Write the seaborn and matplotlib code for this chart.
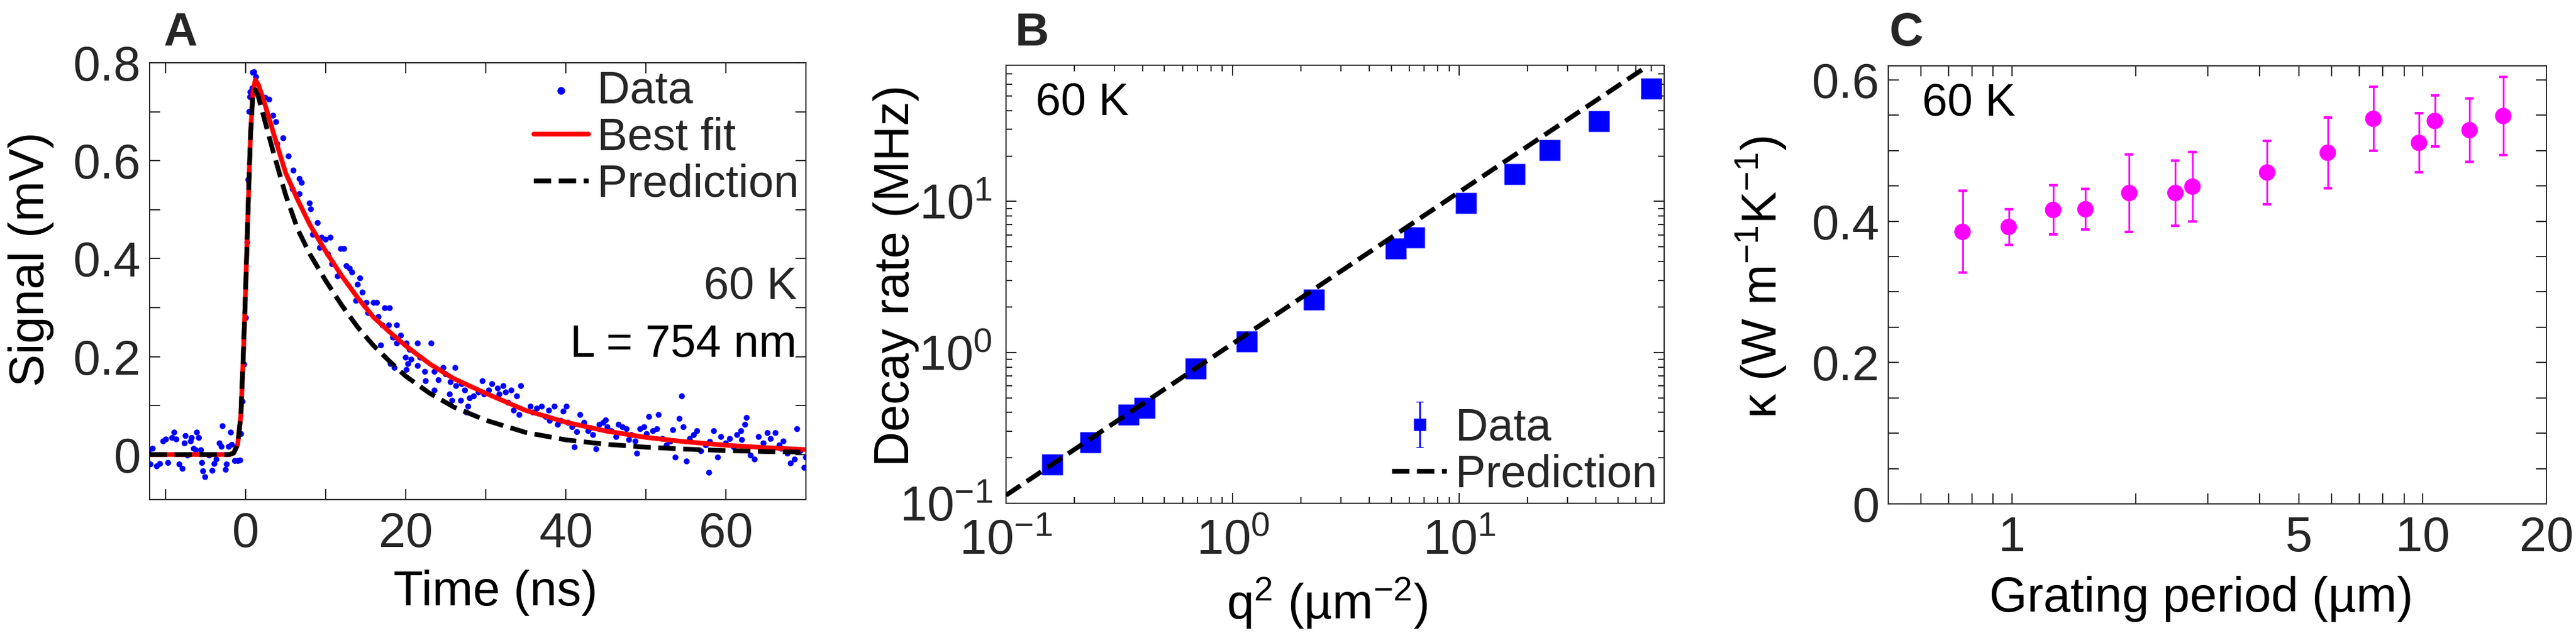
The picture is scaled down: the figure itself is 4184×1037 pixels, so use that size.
import matplotlib
matplotlib.use("Agg")
import matplotlib.pyplot as plt
from matplotlib.ticker import FixedLocator, MultipleLocator, NullFormatter, LogLocator
import seaborn as sns

# ---------------- data ----------------
# panel A: transient grating signal at 60 K, L = 754 nm
time_ns = [
    -12.06, -11.9, -11.62, -11.1, -10.7, -10.3, -9.95, -9.69, -9.18, -8.92, -8.66, -8.28,
    -7.89, -7.63, -7.51, -7.25, -6.86, -6.74, -6.48, -6.22, -6.09, -5.84, -5.58, -5.45,
    -5.32, -5.06, -4.55, -4.16, -3.91, -3.65, -3.26, -3.01, -2.88, -2.49, -2.37, -2.11,
    -1.85, -1.72, -1.34, -0.95, -0.69, -0.57,
    -0.39, -0.18, 0.03, 0.21, 0.33, 0.46, 0.55, 0.59, 0.85, 0.9, 1.06, 1.1, 1.3,
    2.43, 2.94, 3.44, 3.8, 4.7, 3.95, 5.37, 5.97, 6.73, 7.0, 5.87, 6.73, 8.0, 8.15,
    9.0, 8.4, 9.5, 10.0, 10.6, 9.27, 10.3, 11.9, 12.3, 10.8, 11.5, 12.6, 13.0, 13.3,
    14.3, 14.0, 13.8, 14.6, 15.1, 15.3, 16.0, 16.4, 17.4, 18.0, 16.6, 17.1, 17.9,
    18.9, 18.4, 16.9, 18.1, 18.6,
    18.5, 19.4, 18.9, 20.1, 21.5, 20.5, 23.2, 20.0, 20.7, 21.8, 21.5, 20.1, 22.4,
    20.3, 22.5, 23.6, 24.1, 24.7, 25.0, 26.2, 23.6, 25.6, 26.3, 27.0, 27.4, 25.5,
    25.8, 26.9, 28.0, 27.8, 27.6, 28.5, 29.1, 29.6, 29.8, 30.4, 30.8, 31.5, 32.2,
    31.7, 32.5, 33.2, 34.4, 33.9, 32.8, 33.5, 34.2, 35.6, 35.9, 37.0, 37.9, 38.6,
    38.0, 39.0, 39.4, 40.1, 40.3, 40.8, 41.1, 41.8, 42.3, 42.8, 43.4, 43.8, 44.2,
    44.7, 45.2, 45.7, 46.3, 46.6, 47.1, 47.6, 48.2, 48.7, 48.9, 49.3, 49.8, 50.4,
    50.9, 51.4, 51.6, 52.1, 52.6, 53.1, 53.7, 54.2, 54.5, 54.7, 55.1, 55.5, 56.0,
    56.4, 56.9, 57.5, 57.9, 58.5, 59.0, 59.4, 60.0, 60.5, 61.0, 61.4, 61.9, 62.4,
    62.6, 63.1, 63.6, 64.1, 64.7, 65.2, 65.6, 66.2, 66.7, 67.2, 67.7, 68.1, 68.6,
    68.9, 69.3, 69.8, 70.0,
    36.4, 37.5, 39.7, 41.4, 43.1, 45.0, 47.9, 50.1, 53.4, 58.0, 62.0, 66.9,
]
signal_mv = [
    0.009, -0.02, 0.012, -0.024, -0.019, 0.027, 0.031, -0.017, 0.034, 0.045, 0.031, -0.020,
    -0.029, 0.023, 0.038, -0.002, 0.027, 0.034, 0.012, 0.009, 0.045, 0.034, 0.009, -0.017,
    -0.034, -0.046, -0.002, -0.033, -0.019, -0.010, 0.023, 0.016, 0.058, -0.031, -0.020, 0.016,
    0.045, 0.020, -0.013, -0.013, -0.012, 0.042,
    0.108, 0.184, 0.279, 0.433, 0.561, 0.70, 0.73, 0.74, 0.748, 0.78, 0.781, 0.74, 0.771,
    0.729, 0.725, 0.692, 0.679, 0.646, 0.634, 0.609, 0.58, 0.563, 0.555, 0.542, 0.532, 0.513, 0.501,
    0.473, 0.449, 0.443, 0.439, 0.443, 0.422, 0.409, 0.42, 0.42, 0.389, 0.364, 0.385, 0.38, 0.372,
    0.36, 0.347, 0.314, 0.331, 0.31, 0.289, 0.31, 0.31, 0.299, 0.299, 0.281, 0.264, 0.264,
    0.264, 0.239, 0.223, 0.185, 0.177,
    0.239, 0.243, 0.227, 0.227, 0.227, 0.214, 0.227, 0.198, 0.194, 0.198, 0.181, 0.173, 0.169,
    0.185, 0.15, 0.169, 0.152, 0.177, 0.164, 0.177, 0.131, 0.148, 0.14, 0.144, 0.131, 0.123,
    0.11, 0.11, 0.115, 0.098, 0.086, 0.119, 0.127, 0.15, 0.123, 0.131, 0.144, 0.135, 0.14,
    0.123, 0.127, 0.131, 0.14, 0.119, 0.106, 0.09, 0.081, 0.098, 0.086, 0.098, 0.09, 0.098,
    0.069, 0.061, 0.069, 0.098, 0.065, 0.056, 0.015, 0.081, 0.065, 0.048, 0.04, 0.011, 0.061,
    0.065, 0.056, 0.048, 0.036, 0.061, 0.056, 0.052, 0.04, 0.027, 0.002, 0.052, 0.056, 0.077,
    0.048, 0.052, 0.081, 0.032, 0.019, 0.027, -0.006, 0.073, 0.119, 0.056, -0.014, 0.032, 0.04,
    0.048, 0.007, 0.019, -0.037, 0.048, -0.006, 0.036, 0.023, 0.032, 0.015, 0.04, 0.048, 0.061,
    0.075, -0.002, -0.01, 0.036, 0.023, 0.044, 0.032, 0.044, 0.019, 0.027, 0.002, -0.018, -0.01,
    0.052, 0.007, -0.027, -0.006,
    0.094, 0.077, 0.088, 0.046, 0.054, 0.07, 0.03, 0.042, 0.05, 0.026, 0.03, 0.012,
]

curve_t = [-12, -2, -1.5, -1, -0.6, -0.3, 0, 0.3, 0.6, 0.9, 1.2, 1.6, 2.5, 3.5, 5, 6.5, 8,
           10, 12, 14, 16, 18, 20, 23, 26, 30, 35, 40, 45, 50, 55, 60, 65, 70]
best_fit = [0, 0, 0.003, 0.02, 0.08, 0.2, 0.34, 0.5, 0.65, 0.74, 0.765, 0.755, 0.71, 0.655,
            0.575, 0.52, 0.47, 0.415, 0.365, 0.32, 0.28, 0.25, 0.222, 0.185, 0.155, 0.125,
            0.09, 0.066, 0.048, 0.035, 0.026, 0.019, 0.014, 0.01]
prediction = [0, 0, 0.003, 0.02, 0.08, 0.2, 0.34, 0.5, 0.65, 0.735, 0.745, 0.73, 0.675, 0.615,
              0.53, 0.46, 0.41, 0.355, 0.305, 0.26, 0.222, 0.19, 0.16, 0.125, 0.097, 0.07,
              0.045, 0.03, 0.021, 0.015, 0.011, 0.008, 0.006, 0.005]

# panel B: decay rate vs q^2
q2 = [0.16, 0.235, 0.348, 0.408, 0.686, 1.15, 2.28, 5.23, 6.32, 10.7, 17.5, 25.0, 41.3, 70.2]
rate = [0.18, 0.254, 0.386, 0.429, 0.78, 1.18, 2.23, 4.89, 5.78, 9.8, 15.2, 21.8, 34.0, 56.0]
rate_err = [0.01, 0.012, 0.015, 0.015, 0.02, 0.03, 0.05, 0.1, 0.12, 0.2, 0.3, 0.4, 0.6, 1.0]
pred_q2 = [0.1, 65]
pred_rate = [0.113, 76]

# panel C: thermal conductivity vs grating period
period = [0.758, 0.982, 1.26, 1.51, 1.93, 2.50, 2.75, 4.18, 5.87, 7.58, 9.79, 10.7, 13.0, 15.7]
kappa = [0.385, 0.392, 0.416, 0.417, 0.44, 0.44, 0.449, 0.469, 0.497, 0.545, 0.511, 0.542, 0.529, 0.549]
kappa_err = [0.058, 0.025, 0.035, 0.029, 0.055, 0.046, 0.049, 0.045, 0.05, 0.045, 0.042, 0.036, 0.045, 0.055]

# ---------------- style ----------------
sns.set_style("ticks")
plt.rcParams['font.family'] = ['Liberation Sans', 'DejaVu Sans']
plt.rcParams['mathtext.fontset'] = 'custom'
plt.rcParams['mathtext.rm'] = 'Liberation Sans'
plt.rcParams['mathtext.it'] = 'Liberation Sans:italic'
plt.rcParams['mathtext.default'] = 'regular'

W, H = 4184, 1037
GRAY = '#262626'
TICK_FS = 57
LAB_FS = 57
TXT_FS = 53

fig = plt.figure(figsize=(W / 100, H / 100), dpi=100)


def box(l, t, r, b):
    return [l / W, 1 - b / H, (r - l) / W, (b - t) / H]


def style_axes(ax):
    for s in ax.spines.values():
        s.set_linewidth(1.4)
        s.set_color(GRAY)
    ax.tick_params(which='both', direction='in', top=True, right=True,
                   width=1.4, color=GRAY, labelcolor=GRAY, labelsize=TICK_FS)
    ax.tick_params(axis='x', which='both', pad=14)
    ax.tick_params(axis='y', which='both', pad=10)


# ---- A ----
axA = fig.add_axes(box(243, 102, 1309, 812))
sns.scatterplot(x=time_ns, y=signal_mv, ax=axA, color='#0000FF', s=48,
                edgecolor='none', label='Data', zorder=2)
sns.lineplot(x=curve_t, y=best_fit, ax=axA, color='#FF0000', lw=5.5,
             label='Best fit', estimator=None, sort=False, zorder=3)
sns.lineplot(x=curve_t, y=prediction, ax=axA, color='black', lw=5.5, linestyle='--',
             label='Prediction', estimator=None, sort=False, zorder=4)
axA.set_xlim(-12, 70)
axA.set_ylim(-0.092, 0.8)
axA.xaxis.set_major_locator(FixedLocator([0, 20, 40, 60]))
axA.xaxis.set_minor_locator(MultipleLocator(10))
axA.yaxis.set_major_locator(FixedLocator([0, 0.2, 0.4, 0.6, 0.8]))
axA.set_yticklabels(['0', '0.2', '0.4', '0.6', '0.8'])
axA.yaxis.set_minor_locator(MultipleLocator(0.1))
style_axes(axA)
axA.tick_params(which='both', length=12)
axA.set_xlabel('Time (ns)', fontsize=LAB_FS, color='black')
axA.set_ylabel('Signal (mV)', fontsize=LAB_FS, color='black')
axA.xaxis.set_label_coords(0.527, -0.16)
axA.yaxis.set_label_coords(-0.145, 0.55)
leg = axA.legend(loc='upper right', bbox_to_anchor=(1.0, 1.0), frameon=False, fontsize=TXT_FS,
                 handlelength=1.2, handletextpad=0.2, labelspacing=0.1, borderpad=0.15,
                 borderaxespad=0, markerscale=1.3)
for t in leg.get_texts():
    t.set_color(GRAY)
axA.text(0.986, 0.459, '60 K', transform=axA.transAxes, ha='right', va='baseline',
         fontsize=TXT_FS, color=GRAY)
axA.text(0.986, 0.328, 'L = 754 nm', transform=axA.transAxes, ha='right', va='baseline',
         fontsize=TXT_FS, color='black')

# ---- B ----
axB = fig.add_axes(box(1634, 106, 2703, 818))
axB.errorbar(q2, rate, yerr=rate_err, fmt='s', color='#0000FF', ms=24, mec='none',
             elinewidth=2, capsize=4, label='Data', zorder=3)
sns.lineplot(x=pred_q2, y=pred_rate, ax=axB, color='black', lw=5.5, linestyle='--',
             label='Prediction', estimator=None, sort=False, zorder=4)
axB.set_xscale('log')
axB.set_yscale('log')
axB.set_xlim(0.1, 80)
axB.set_ylim(0.1, 80)
axB.xaxis.set_major_locator(LogLocator(base=10, numticks=10))
axB.yaxis.set_major_locator(LogLocator(base=10, numticks=10))
axB.xaxis.set_minor_locator(LogLocator(base=10, subs=range(2, 10), numticks=20))
axB.yaxis.set_minor_locator(LogLocator(base=10, subs=range(2, 10), numticks=20))
axB.xaxis.set_minor_formatter(NullFormatter())
axB.yaxis.set_minor_formatter(NullFormatter())
style_axes(axB)
axB.tick_params(which='major', length=12)
axB.tick_params(which='minor', length=7)
axB.tick_params(axis='y', which='major', pad=16)
axB.tick_params(axis='x', which='major', pad=18)
axB.set_xlabel('q$^{2}$ (µm$^{-2}$)', fontsize=LAB_FS, color='black')
axB.set_ylabel('Decay rate (MHz)', fontsize=LAB_FS, color='black')
axB.xaxis.set_label_coords(0.488, -0.165)
axB.yaxis.set_label_coords(-0.132, 0.52)
hB, lB = axB.get_legend_handles_labels()
order = [lB.index('Data'), lB.index('Prediction')]
legB = axB.legend([hB[i] for i in order], [lB[i] for i in order], loc='lower right',
                  bbox_to_anchor=(1.0, 0.0), frameon=False, fontsize=TXT_FS,
                  handlelength=1.2, handletextpad=0.2, labelspacing=0.1, borderpad=0.15,
                  borderaxespad=0, markerscale=0.6)
for t in legB.get_texts():
    t.set_color(GRAY)
axB.text(0.045, 0.885, '60 K', transform=axB.transAxes, ha='left', va='baseline',
         fontsize=TXT_FS, color='black')

# ---- C ----
axC = fig.add_axes(box(3067, 107, 4136, 819))
axC.errorbar(period, kappa, yerr=kappa_err, fmt='none', ecolor='#FF00FF', elinewidth=2,
             capsize=5, capthick=3, zorder=2)
sns.scatterplot(x=period, y=kappa, ax=axC, color='#FF00FF', s=370, edgecolor='none',
                zorder=3, legend=False)
axC.set_xscale('log')
axC.set_xlim(0.5, 20)
axC.set_ylim(0, 0.62)
axC.xaxis.set_major_locator(FixedLocator([1, 5, 10, 20]))
axC.set_xticklabels(['1', '5', '10', '20'])
axC.xaxis.set_minor_locator(FixedLocator([0.6, 0.7, 0.8, 0.9, 2, 3, 4, 6, 7, 8, 9]))
axC.xaxis.set_minor_formatter(NullFormatter())
axC.yaxis.set_major_locator(FixedLocator([0, 0.2, 0.4, 0.6]))
axC.set_yticklabels(['0', '0.2', '0.4', '0.6'])
axC.yaxis.set_minor_locator(MultipleLocator(0.05))
style_axes(axC)
axC.tick_params(which='both', length=12)
axC.set_xlabel('Grating period (µm)', fontsize=LAB_FS, color='black')
axC.set_ylabel('κ (W m$^{-1}$K$^{-1}$)', fontsize=LAB_FS, color='black')
axC.xaxis.set_label_coords(0.475, -0.165)
axC.yaxis.set_label_coords(-0.152, 0.517)
axC.text(0.051, 0.886, '60 K', transform=axC.transAxes, ha='left', va='baseline',
         fontsize=TXT_FS, color='black')

# panel letters
for x, letter in [(265, 'A'), (1649, 'B'), (3069, 'C')]:
    fig.text(x / W, 1 - 74 / H, letter, fontsize=55, fontweight='bold', color=GRAY,
             ha='left', va='baseline')

fig.savefig('out.png', dpi=100)
